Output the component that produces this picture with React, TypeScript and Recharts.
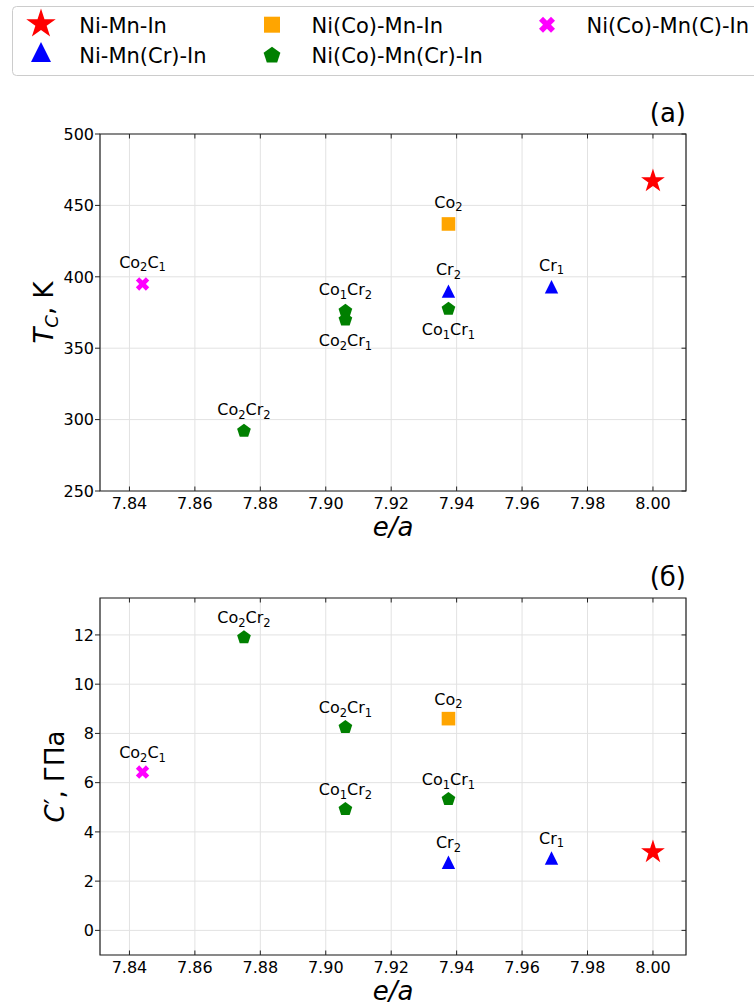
import { CartesianGrid, ReferenceArea, Scatter, ScatterChart, XAxis, YAxis } from "recharts"

// ---- data ----
const eaTicks = [7.84, 7.86, 7.88, 7.9, 7.92, 7.94, 7.96, 7.98, 8.0]
const tcTicks = [250, 300, 350, 400, 450, 500]
const cTicks = [0, 2, 4, 6, 8, 10, 12]

const niMnInEa = [8.0]
const niMnInTc = [467]
const niMnInC = [3.18]
const niMnInLabels = [""]

const niMnCrInEa = [7.969, 7.9375]
const niMnCrInTc = [393, 390]
const niMnCrInC = [2.94, 2.77]
const niMnCrInLabels = ["Cr1", "Cr2"]

const niCoMnInEa = [7.9375]
const niCoMnInTc = [437]
const niCoMnInC = [8.6]
const niCoMnInLabels = ["Co2"]

const niCoMnCrInEa = [7.906, 7.906, 7.9375, 7.875]
const niCoMnCrInTc = [376, 370, 377.5, 292]
const niCoMnCrInC = [4.92, 8.25, 5.33, 11.9]
const niCoMnCrInLabels = ["Co1Cr2", "Co2Cr1", "Co1Cr1", "Co2Cr2"]

const niCoMnCInEa = [7.844]
const niCoMnCInTc = [395]
const niCoMnCInC = [6.43]
const niCoMnCInLabels = ["Co2C1"]

// labels drawn under the marker in panel (a)
const tcLabelsBelow = ["Co2Cr1", "Co1Cr1"]

// ---- layout ----
const FONT = "DejaVu Sans"
const AXIS = "#222"
const W = 754
const CH = 459
const M = { top: 50, right: 68, bottom: 2, left: 0 }
const Y_W = 100
const X_H = 50
const PW = W - M.left - M.right - Y_W
const PH = CH - M.top - M.bottom - X_H
const TICK = 4.5
const EA_DOMAIN: [number, number] = [7.831, 8.0101]

type Kind = "star" | "triangle" | "square" | "pentagon" | "x"

const series = [
  { name: "Ni-Mn-In", kind: "star" as Kind, color: "#ff0000", ea: niMnInEa, tc: niMnInTc, c: niMnInC, labels: niMnInLabels },
  { name: "Ni-Mn(Cr)-In", kind: "triangle" as Kind, color: "#0000ff", ea: niMnCrInEa, tc: niMnCrInTc, c: niMnCrInC, labels: niMnCrInLabels },
  { name: "Ni(Co)-Mn-In", kind: "square" as Kind, color: "#ffa500", ea: niCoMnInEa, tc: niCoMnInTc, c: niCoMnInC, labels: niCoMnInLabels },
  { name: "Ni(Co)-Mn(Cr)-In", kind: "pentagon" as Kind, color: "#008000", ea: niCoMnCrInEa, tc: niCoMnCrInTc, c: niCoMnCrInC, labels: niCoMnCrInLabels },
  { name: "Ni(Co)-Mn(C)-In", kind: "x" as Kind, color: "#ff00ff", ea: niCoMnCInEa, tc: niCoMnCInTc, c: niCoMnCInC, labels: niCoMnCInLabels },
]

const plotSize: Record<Kind, number> = { star: 12.5, triangle: 6.7, square: 6.8, pentagon: 7.2, x: 6.7 }

function polygon(pts: number[][]) {
  return "M" + pts.map((p) => p[0].toFixed(2) + "," + p[1].toFixed(2)).join("L") + "Z"
}

function markerPath(kind: Kind, cx: number, cy: number, s: number) {
  if (kind === "star") {
    const pts = []
    for (let i = 0; i < 10; i++) {
      const r = i % 2 === 0 ? s : s * 0.382
      const a = -Math.PI / 2 + (i * Math.PI) / 5
      pts.push([cx + r * Math.cos(a), cy + r * Math.sin(a)])
    }
    return polygon(pts)
  }
  if (kind === "pentagon") {
    const pts = []
    for (let i = 0; i < 5; i++) {
      const a = -Math.PI / 2 + (i * 2 * Math.PI) / 5
      pts.push([cx + s * Math.cos(a), cy + s * Math.sin(a)])
    }
    return polygon(pts)
  }
  if (kind === "triangle") {
    return polygon([[cx, cy - s], [cx + s, cy + s], [cx - s, cy + s]])
  }
  if (kind === "square") {
    return polygon([[cx - s, cy - s], [cx + s, cy - s], [cx + s, cy + s], [cx - s, cy + s]])
  }
  // filled X
  const t = 1 / 3
  const plus = [[t, 1], [t, t], [1, t], [1, -t], [t, -t], [t, -1], [-t, -1], [-t, -t], [-1, -t], [-1, t], [-t, t], [-t, 1]]
  const k = s / 0.943
  return polygon(plus.map(([x, y]) => [cx + (k * (x - y)) / Math.SQRT2, cy + (k * (x + y)) / Math.SQRT2]))
}

// "Co2Cr1" -> Co₂Cr₁ drawn with tspans
function SubText({ x, y, text }: { x: number; y: number; text: string }) {
  const parts = text.match(/[0-9]+|[^0-9]+/g) || []
  let shifted = false
  return (
    <text x={x} y={y} textAnchor="middle" fontSize={16} fontFamily={FONT} fill="#000">
      {parts.map((p, i) => {
        const isSub = /[0-9]/.test(p)
        let dy = 0
        if (isSub && !shifted) { dy = 3.5; shifted = true }
        else if (!isSub && shifted) { dy = -3.5; shifted = false }
        return (
          <tspan key={i} dy={dy} fontSize={isSub ? 11.5 : 16}>
            {p}
          </tspan>
        )
      })}
    </text>
  )
}

function makeShape(kind: Kind, color: string, below: string[], up: number) {
  return (props: any) => {
    const { cx, cy, payload } = props
    if (cx == null || cy == null) return <g />
    const label: string = payload?.label || ""
    const isBelow = below.includes(label)
    return (
      <g>
        <path d={markerPath(kind, cx, cy, plotSize[kind])} fill={color} />
        {label && <SubText x={cx} y={isBelow ? cy + 26.5 : cy - up} text={label} />}
      </g>
    )
  }
}

// bottom + top ticks point inward
function EaTick(props: any) {
  const { x, y, payload } = props
  return (
    <g>
      <line x1={x} x2={x} y1={y} y2={y - TICK} stroke={AXIS} />
      <line x1={x} x2={x} y1={y - PH} y2={y - PH + TICK} stroke={AXIS} />
      <text x={x} y={y + 17.5} textAnchor="middle" fontSize={16} fontFamily={FONT} fill="#000">
        {Number(payload.value).toFixed(2)}
      </text>
    </g>
  )
}

// left ticks outward, right ticks inward
function ValueTick(props: any) {
  const { x, y, payload } = props
  return (
    <g>
      <line x1={x - 5} x2={x} y1={y} y2={y} stroke={AXIS} />
      <line x1={x + PW - TICK} x2={x + PW} y1={y} y2={y} stroke={AXIS} />
      <text x={x - 6} y={y + 5.8} textAnchor="end" fontSize={16} fontFamily={FONT} fill="#000">
        {payload.value}
      </text>
    </g>
  )
}

function EaLabel(p: any) {
  const vb = p.viewBox
  return (
    <text x={vb.x + vb.width / 2} y={vb.y + 44.7} textAnchor="middle" fontSize={26} fontFamily={FONT} fontStyle="italic" fill="#000">
      e/a
    </text>
  )
}

type PanelProps = {
  field: "tc" | "c"
  domain: [number, number]
  ticks: number[]
  title: string
  yLabel: (vb: any) => any
  below: string[]
  up: number
}

function Panel({ field, domain, ticks, title, yLabel, below, up }: PanelProps) {
  return (
    <ScatterChart width={W} height={CH} margin={M}>
      <CartesianGrid stroke="#e2e2e2" />
      <XAxis
        type="number"
        dataKey="ea"
        domain={EA_DOMAIN}
        ticks={eaTicks}
        interval={0}
        height={X_H}
        axisLine={false}
        tickLine={false}
        tickSize={0}
        tickMargin={0}
        tick={EaTick}
        label={EaLabel}
      />
      <YAxis
        type="number"
        dataKey="v"
        domain={domain}
        ticks={ticks}
        interval={0}
        width={Y_W}
        axisLine={false}
        tickLine={false}
        tickSize={0}
        tickMargin={0}
        tick={ValueTick}
        label={(p: any) => yLabel(p.viewBox)}
      />
      <ReferenceArea
        x1={EA_DOMAIN[0]}
        x2={EA_DOMAIN[1]}
        y1={domain[0]}
        y2={domain[1]}
        fill="none"
        fillOpacity={0}
        stroke={AXIS}
        strokeWidth={1.2}
        label={(p: any) => (
          <text x={p.viewBox.x + p.viewBox.width} y={p.viewBox.y - 12.5} textAnchor="end" fontSize={26} fontFamily={FONT} fill="#000">
            {title}
          </text>
        )}
      />
      {series.map((s) => (
        <Scatter
          key={s.name}
          name={s.name}
          data={s.ea.map((ea, i) => ({ ea, v: s[field][i], label: s.labels[i] }))}
          fill={s.color}
          shape={makeShape(s.kind, s.color, below, up)}
          isAnimationActive={false}
        />
      ))}
    </ScatterChart>
  )
}

const legendItems = [
  { i: 0, cx: 41, cy: 24, size: 15.5, tx: 79.3, ty: 32.5 },
  { i: 1, cx: 41, cy: 52, size: 10, tx: 79.3, ty: 62.5 },
  { i: 2, cx: 272, cy: 24.7, size: 8, tx: 311.5, ty: 32.5 },
  { i: 3, cx: 272, cy: 55.5, size: 8.8, tx: 311.5, ty: 62.5 },
  { i: 4, cx: 547, cy: 24.7, size: 8, tx: 586.5, ty: 32.5 },
]

function LegendBox() {
  return (
    <svg width={W} height={80} style={{ position: "absolute", left: 0, top: 0 }}>
      <rect x={12.5} y={6.5} width={780} height={69} rx={4} fill="#fff" stroke="#cccccc" />
      {legendItems.map((it) => {
        const s = series[it.i]
        return (
          <g key={s.name}>
            <path d={markerPath(s.kind, it.cx, it.cy, it.size)} fill={s.color} />
            <text x={it.tx} y={it.ty} fontSize={21} fontFamily={FONT} fill="#000">
              {s.name}
            </text>
          </g>
        )
      })}
    </svg>
  )
}

export default function App() {
  return (
    <div style={{ position: "absolute", left: 0, top: 0, width: W, height: 1007, background: "#fff", fontFamily: FONT, overflow: "hidden" }}>
      <LegendBox />
      <div style={{ position: "absolute", left: 0, top: 84 }}>
        <Panel
          field="tc"
          domain={[250, 500]}
          ticks={tcTicks}
          title="(a)"
          below={tcLabelsBelow}
          up={16}
          yLabel={(vb) => {
            const x = vb.x + 53
            const y = vb.y + vb.height / 2
            return (
              <text x={x} y={y} transform={`rotate(-90, ${x}, ${y})`} textAnchor="middle" fontSize={26} fontFamily={FONT} fill="#000">
                <tspan fontStyle="italic">T</tspan>
                <tspan fontStyle="italic" fontSize={18} dy={5}>C</tspan>
                <tspan dy={-5}>, K</tspan>
              </text>
            )
          }}
        />
      </div>
      <div style={{ position: "absolute", left: 0, top: 548 }}>
        <Panel
          field="c"
          domain={[-1, 13.5]}
          ticks={cTicks}
          title="(б)"
          below={[]}
          up={14}
          yLabel={(vb) => {
            const x = vb.x + 64
            const y = vb.y + vb.height / 2
            return (
              <text x={x} y={y} transform={`rotate(-90, ${x}, ${y})`} textAnchor="middle" fontSize={26} fontFamily={FONT} fill="#000">
                <tspan fontStyle="italic">C</tspan>
                <tspan>′, ГПа</tspan>
              </text>
            )
          }}
        />
      </div>
    </div>
  )
}
